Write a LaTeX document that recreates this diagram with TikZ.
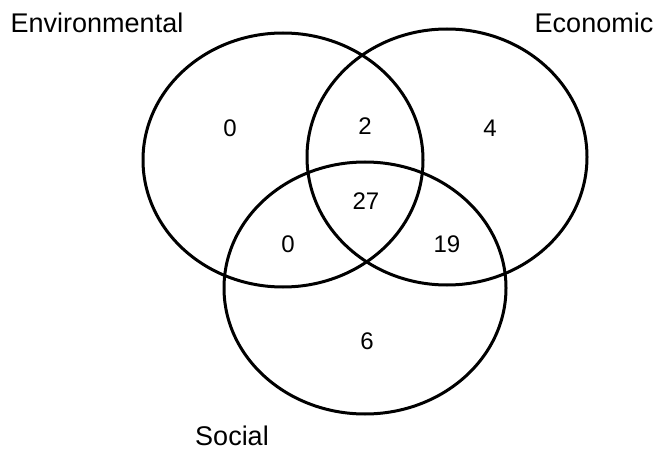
\documentclass[tikz,border=0pt]{standalone}
\usepackage{fontspec}
\setmainfont{Liberation Sans}
\begin{document}
\begin{tikzpicture}[x=1pt,y=-1pt,
  setline/.style={line width=3pt,draw=black},
  setname/.style={font=\fontsize{27}{31}\selectfont,inner sep=0pt},
  lbl/.style={font=\fontsize{24}{28}\selectfont,inner sep=0pt}]
\useasboundingbox (0,0) rectangle (662,468);
% three overlapping sets
\draw[setline] (283,160) ellipse [x radius=140, y radius=127];
\draw[setline] (447,157) ellipse [x radius=140, y radius=128];
\draw[setline] (365,288) ellipse [x radius=141, y radius=126];
% set names
\node[setname] (env) at (97,23) {Environmental};
\node[setname] (eco) at (594,23) {Economic};
\node[setname] (soc) at (232,436) {Social};
% region counts
\node[lbl] (r1) at (230,128) {0};
\node[lbl] (r2) at (365,126) {2};
\node[lbl] (r3) at (490,128) {4};
\node[lbl] (r4) at (366,201) {27};
\node[lbl] (r5) at (288,244) {0};
\node[lbl] (r6) at (447,244) {19};
\node[lbl] (r7) at (367,341) {6};
\end{tikzpicture}
\end{document}
